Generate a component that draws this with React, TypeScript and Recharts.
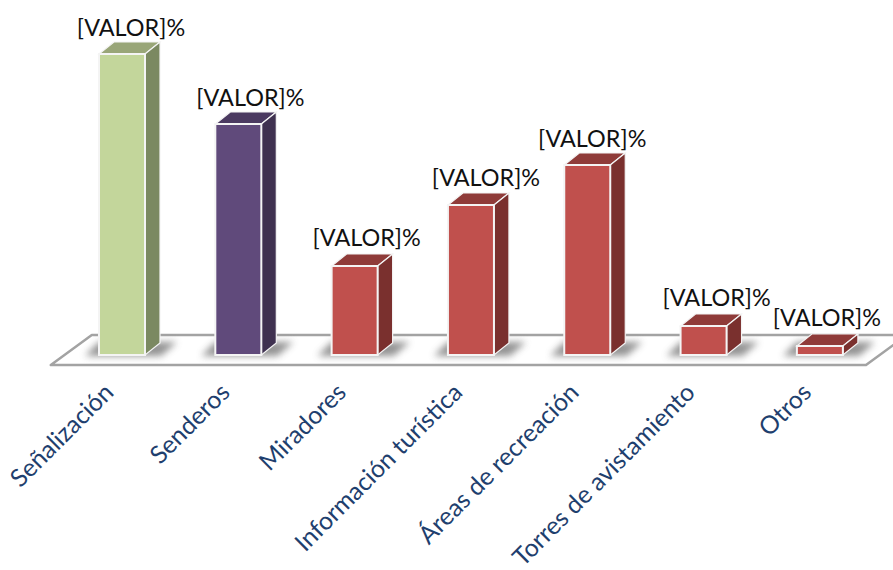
import React from "react";
import { BarChart, Bar, XAxis, YAxis, Cell, LabelList, usePlotArea } from "recharts";

const categories = ["Señalización", "Senderos", "Miradores", "Información turística", "Áreas de recreación", "Torres de avistamiento", "Otros"];
const values = [30.1, 23.1, 8.9, 15, 19, 2.9, 0.9];
const frontColors = ["#C3D69B", "#604A7B", "#C0504D", "#C0504D", "#C0504D", "#C0504D", "#C0504D"];
const topColors = ["#99A678", "#4B3A61", "#8F3B39", "#8F3B39", "#8F3B39", "#8F3B39", "#8F3B39"];
const sideColors = ["#7B8961", "#3F3150", "#7A302E", "#7A302E", "#7A302E", "#7A302E", "#7A302E"];
const labelText = "[VALOR]%";

// The reference's data labels were nudged by hand; these are layout offsets only.
const labelNudgeX = [9, 12, 12, 15, 5, 13, 7];
const labelNudgeY = [-18, -18, -20, -19, -18, -20, -20];

const data = categories.map((name, i) => ({ name, value: values[i] }));
const FONT = "Lato, 'Open Sans', sans-serif";
const DX = 15;
const DY = 12;

function Floor() {
  const p = usePlotArea();
  if (!p) return null;
  const base = p.y + p.height;
  const fl = p.x - 13;
  const fr = p.x + p.width - 12;
  const pts = `${fl},${base + 10} ${fr},${base + 10} ${fr + 41},${base - 20} ${fl + 41},${base - 20}`;
  return <polygon points={pts} fill="#ffffff" stroke="#a3a3a3" strokeWidth={2.5} strokeLinejoin="round" />;
}

function Bar3D(props: any) {
  const { x, y, width: w, height: h, index } = props;
  const base = y + h;
  const shadow = `${x - 14},${base + 1} ${x},${base - 13} ${x + w + 32},${base - 13} ${x + w + 16},${base + 1}`;
  return (
    <g>
      <polygon points={shadow} fill="#6f6f6f" opacity={0.75} filter="url(#floorShadow)" />
      <polygon
        points={`${x},${y} ${x + DX},${y - DY} ${x + w + DX},${y - DY} ${x + w},${y}`}
        fill={topColors[index]}
        stroke="#f4f4f4"
        strokeWidth={1.2}
      />
      <polygon
        points={`${x + w},${y} ${x + w + DX},${y - DY} ${x + w + DX},${base - DY} ${x + w},${base}`}
        fill={sideColors[index]}
        stroke="#f4f4f4"
        strokeWidth={1.2}
      />
      <rect x={x} y={y} width={w} height={h} fill={frontColors[index]} stroke="#f4f4f4" strokeWidth={2} />
    </g>
  );
}

function ValueLabel(props: any) {
  const { x, y, width: w, index } = props;
  return (
    <text
      x={x + w / 2 + labelNudgeX[index]}
      y={y + labelNudgeY[index]}
      textAnchor="middle"
      fontFamily={FONT}
      fontSize={23.4}
      fill="#111111"
    >
      {labelText}
    </text>
  );
}

function CategoryTick(props: any) {
  const { x, y, payload } = props;
  const ax = x - 7;
  const ay = y + 31;
  return (
    <text
      x={ax}
      y={ay}
      textAnchor="end"
      transform={`rotate(-45 ${ax} ${ay})`}
      fontFamily={FONT}
      fontSize={24.8}
      fill="#1F3F6E"
    >
      {payload.value}
    </text>
  );
}

export default function App() {
  return (
    <div style={{ position: "absolute", left: 0, top: 0, width: 893, height: 570, overflow: "hidden", background: "#fff" }}>
      <BarChart
        width={893}
        height={570}
        data={data}
        barCategoryGap={35.2}
        margin={{ top: 5, right: 15, bottom: 0, left: 63.8 }}
      >
        <defs>
          <filter id="floorShadow" x="-30%" y="-60%" width="160%" height="220%">
            <feGaussianBlur stdDeviation="3.5" />
          </filter>
        </defs>
        <Floor />
        <XAxis
          dataKey="name"
          axisLine={false}
          tickLine={false}
          interval={0}
          height={215}
          tick={<CategoryTick />}
        />
        <YAxis hide domain={[0, 35]} />
        <Bar dataKey="value" isAnimationActive={false} shape={<Bar3D />}>
          {data.map((d, i) => (
            <Cell key={d.name} fill={frontColors[i]} />
          ))}
          <LabelList dataKey="value" content={<ValueLabel />} />
        </Bar>
      </BarChart>
    </div>
  );
}
